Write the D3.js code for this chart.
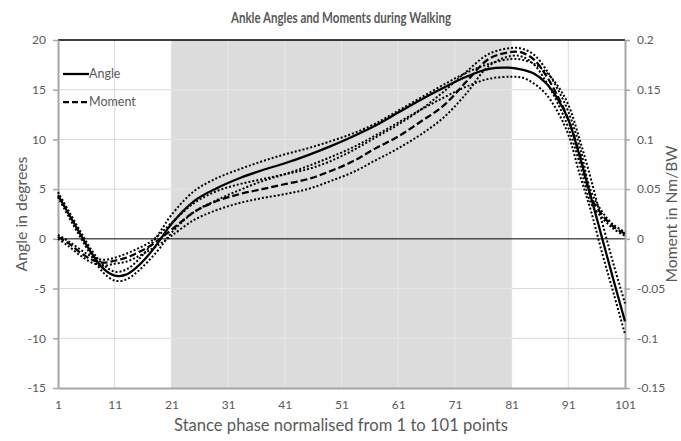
<!DOCTYPE html>
<html><head><meta charset="utf-8">
<script src="https://cdn.jsdelivr.net/npm/d3@7"></script>
<style>
html,body{margin:0;padding:0;background:#fff;}
text{font-family:Lato,"Open Sans",sans-serif;fill:#595959;}
</style></head>
<body>
<svg id="chart" width="681" height="441"></svg>
<script>
// ---- data ----
const xPoints = [1,3,5,7,9,11,13,15,17,19,21,25,29,33,37,41,45,49,53,57,61,65,69,73,77,81,83,85,87,89,91,93,95,97,99,101];
const angleMean  = [4.4,2.4,0.4,-1.5,-3.0,-3.7,-3.6,-2.8,-1.6,-0.1,1.5,3.8,5.1,6.1,6.9,7.6,8.4,9.3,10.3,11.4,12.7,14.0,15.2,16.3,17.1,17.2,17.0,16.6,15.7,14.2,12.0,8.3,4.2,0.0,-4.2,-8.3];
const angleUpper = [4.7,2.7,0.7,-1.2,-2.6,-3.3,-3.1,-2.2,-0.9,0.7,2.4,4.8,6.1,7.0,7.8,8.5,9.1,9.8,10.6,11.6,12.9,14.2,15.5,16.7,17.6,18.1,18.0,17.6,16.8,15.5,13.5,10.0,6.0,1.6,-2.6,-6.5];
const angleLower = [4.2,2.1,0.1,-1.8,-3.4,-4.2,-4.1,-3.3,-2.2,-0.9,0.6,2.7,3.9,4.9,5.8,6.5,7.3,8.2,9.2,10.4,11.7,13.0,14.2,15.3,16.1,16.3,16.2,15.6,14.6,12.9,10.5,6.5,2.8,-1.5,-5.5,-9.6];
const momentMean  = [0.002,-0.005,-0.014,-0.021,-0.024,-0.022,-0.019,-0.014,-0.008,0.000,0.009,0.027,0.038,0.045,0.050,0.055,0.060,0.068,0.078,0.091,0.103,0.118,0.134,0.158,0.181,0.188,0.187,0.180,0.165,0.145,0.120,0.085,0.042,0.024,0.012,0.005];
const momentUpper = [0.004,-0.003,-0.011,-0.018,-0.021,-0.019,-0.015,-0.010,-0.004,0.005,0.016,0.036,0.048,0.055,0.060,0.065,0.070,0.078,0.089,0.102,0.115,0.130,0.148,0.168,0.186,0.192,0.191,0.185,0.171,0.152,0.128,0.093,0.048,0.027,0.014,0.007];
const momentLower = [0.000,-0.008,-0.017,-0.024,-0.027,-0.025,-0.023,-0.018,-0.012,-0.005,0.003,0.019,0.029,0.036,0.041,0.045,0.050,0.058,0.067,0.079,0.091,0.105,0.122,0.146,0.174,0.184,0.183,0.175,0.159,0.138,0.112,0.076,0.036,0.021,0.010,0.003];
const shadeRange = [21, 81];
const xTickValues = [1,11,21,31,41,51,61,71,81,91,101];
const leftTickValues = [-15,-10,-5,0,5,10,15,20];
const leftTickLabels = ["-15","-10","-5","0","5","10","15","20"];
const rightTickValues = [-0.15,-0.1,-0.05,0,0.05,0.1,0.15,0.2];
const rightTickLabels = ["-0.15","-0.1","-0.05","0","0.05","0.1","0.15","0.2"];

// ---- layout ----
const L = 58, R = 625, T = 40, B = 388;
const svg = d3.select("#chart");
const x = d3.scaleLinear().domain([1,101]).range([L,R]);
const yL = d3.scaleLinear().domain([-15,20]).range([B,T]);
const yR = d3.scaleLinear().domain([-0.15,0.2]).range([B,T]);

function fitWidth(sel, target){
  const n = sel.node();
  const w = n.getComputedTextLength();
  const fs = parseFloat(sel.style("font-size"));
  if (w > 0) sel.style("font-size", (fs*target/w).toFixed(2)+"px");
}

// gridlines (base)
function drawGrid(g, color){
  g.selectAll(".h").data([-10,-5,5,10,15]).join("line")
    .attr("x1",L).attr("x2",R).attr("y1",d=>yL(d)).attr("y2",d=>yL(d))
    .attr("stroke",color).attr("stroke-width",1);
  g.selectAll(".v").data(xTickValues.slice(1,-1)).join("line")
    .attr("y1",T).attr("y2",B).attr("x1",d=>x(d)).attr("x2",d=>x(d))
    .attr("stroke",color).attr("stroke-width",1);
}
drawGrid(svg.append("g"), "#d9d9d9");

// shaded region
svg.append("rect").attr("x",x(shadeRange[0])).attr("y",T)
  .attr("width",x(shadeRange[1])-x(shadeRange[0])).attr("height",B-T)
  .attr("fill","#dcdcdc");
svg.append("clipPath").attr("id","shadeClip").append("rect")
  .attr("x",x(shadeRange[0])).attr("y",T)
  .attr("width",x(shadeRange[1])-x(shadeRange[0])).attr("height",B-T);
drawGrid(svg.append("g").attr("clip-path","url(#shadeClip)"), "#e6e6e6");

// top border & zero line
svg.append("line").attr("x1",L).attr("x2",R).attr("y1",yL(20)).attr("y2",yL(20)).attr("stroke","#000").attr("stroke-width",1.3);
svg.append("line").attr("x1",L).attr("x2",R).attr("y1",yL(0)).attr("y2",yL(0)).attr("stroke","#000").attr("stroke-width",1);

// axes
function styleAxis(g){
  g.selectAll("path.domain").attr("stroke","#a6a6a6").attr("stroke-width",2);
  g.selectAll(".tick line").attr("stroke","#a6a6a6").attr("stroke-width",1.5);
  g.selectAll(".tick text").style("font-family","Lato, sans-serif").style("font-size","12px").attr("fill","#595959");
}
const axL = svg.append("g").attr("transform",`translate(${L},0)`)
  .call(d3.axisLeft(yL).tickValues(leftTickValues).tickFormat((d,i)=>leftTickLabels[i]).tickSize(5).tickSizeOuter(0).tickPadding(7));
styleAxis(axL);
const axR = svg.append("g").attr("transform",`translate(${R},0)`)
  .call(d3.axisRight(yR).tickValues(rightTickValues).tickFormat((d,i)=>rightTickLabels[i]).tickSize(5).tickSizeOuter(0).tickPadding(7));
styleAxis(axR);
const axB = svg.append("g").attr("transform",`translate(0,${B})`)
  .call(d3.axisBottom(x).tickValues(xTickValues).tickFormat(d=>String(d)).tickSize(0).tickSizeOuter(0).tickPadding(12));
styleAxis(axB);

// series
const curve = d3.curveCatmullRom.alpha(0.5);
const lineL = d3.line().x((d,i)=>x(xPoints[i])).y(d=>yL(d)).curve(curve);
const lineR = d3.line().x((d,i)=>x(xPoints[i])).y(d=>yR(d)).curve(curve);
[[angleUpper,lineL],[angleLower,lineL],[momentUpper,lineR],[momentLower,lineR]].forEach(([arr,ln])=>{
  svg.append("path").attr("d",ln(arr)).attr("fill","none").attr("stroke","#000")
    .attr("stroke-width",2).attr("stroke-dasharray","2,2");
});
svg.append("path").attr("d",lineR(momentMean)).attr("fill","none").attr("stroke","#000")
  .attr("stroke-width",2.25).attr("stroke-dasharray","7,3");
svg.append("path").attr("d",lineL(angleMean)).attr("fill","none").attr("stroke","#000")
  .attr("stroke-width",2.25);

// legend
const legend = [{name:"Angle",dash:null,y:74},{name:"Moment",dash:"6,3",y:102}];
legend.forEach(d=>{
  svg.append("line").attr("x1",63).attr("x2",89).attr("y1",d.y).attr("y2",d.y)
    .attr("stroke","#000").attr("stroke-width",2.25).attr("stroke-dasharray",d.dash);
  svg.append("text").attr("x",89).attr("y",d.y).attr("dy","0.35em")
    .style("font-size","12.5px").text(d.name);
});

// titles
svg.append("text").attr("x",341).attr("y",23).attr("text-anchor","middle")
  .attr("textLength",220).attr("lengthAdjust","spacingAndGlyphs")
  .style("font-size","14.5px").style("font-weight","bold").text("Ankle Angles and Moments during Walking");
const t2 = svg.append("text").attr("x",341).attr("y",431).attr("text-anchor","middle")
  .style("font-size","14px").text("Stance phase normalised from 1 to 101 points");
fitWidth(t2, 334);
const t3 = svg.append("text").attr("transform",`translate(27,${(T+B)/2}) rotate(-90)`).attr("text-anchor","middle")
  .style("font-size","14px").text("Angle in degrees");
fitWidth(t3, 115);
const t4 = svg.append("text").attr("transform",`translate(677,${(T+B)/2}) rotate(-90)`).attr("text-anchor","middle")
  .style("font-size","14px").text("Moment in Nm/BW");
fitWidth(t4, 137);
</script>
</body></html>
